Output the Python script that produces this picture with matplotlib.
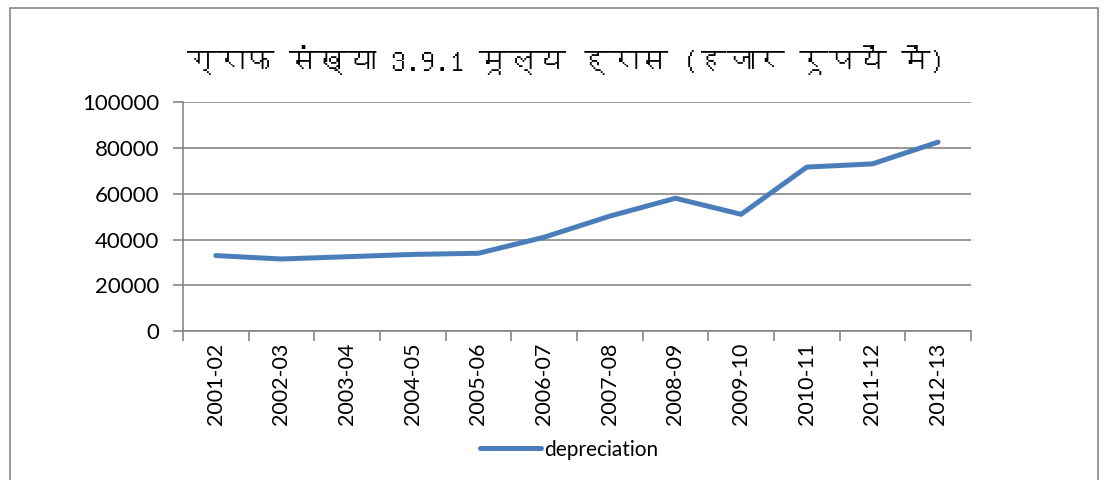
import matplotlib
matplotlib.use("Agg")
import matplotlib.pyplot as plt
from matplotlib import font_manager
from matplotlib.ft2font import FT2Font
from matplotlib.patches import Rectangle
import numpy as np

years = ["2001-02", "2002-03", "2003-04", "2004-05", "2005-06", "2006-07",
         "2007-08", "2008-09", "2009-10", "2010-11", "2011-12", "2012-13"]
depreciation = [33000, 31500, 32500, 33500, 34000, 41000,
                50200, 58000, 51000, 71600, 73000, 82500]
yticks = [0, 20000, 40000, 60000, 80000, 100000]
title = "ग्राफ संख्या 3.9.1 मूल्य ह्रास (हजार रूपयें में)"

# look for any installed font with devanagari glyphs
deva = None
for f in font_manager.fontManager.ttflist:
    try:
        if FT2Font(f.fname).get_char_index(ord("ग")):
            deva = f.name
            break
    except Exception:
        pass
title_fam = [deva, "DejaVu Sans"] if deva else ["DejaVu Sans"]

plt.rcParams["font.family"] = ["Lato", "DejaVu Sans"]

fig = plt.figure(figsize=(11.09, 4.80), dpi=100)
ax = fig.add_axes([0.165, 0.310, 0.7105, 0.4775])

x = np.arange(len(years))
line, = ax.plot(x, depreciation, color="#4A7EBB", lw=3.6, solid_capstyle="round",
                label="depreciation")

ax.set_xlim(-0.5, len(years) - 0.5)
ax.set_ylim(0, 100000)
ax.set_yticks(yticks)
ax.set_yticklabels([str(v) for v in yticks], fontsize=16)
ax.set_xticks(x)
ax.set_xticklabels(years, rotation=90, fontsize=15.5)
ax.set_xticks(np.arange(-0.5, len(years), 1.0), minor=True)
ax.tick_params(axis="x", which="major", length=0, pad=8)
ax.tick_params(axis="x", which="minor", length=7, color="#868686", width=1.2)
ax.tick_params(axis="y", length=7, color="#868686", width=1.2, pad=10)

ax.grid(axis="y", color="#868686", lw=1.2)
ax.set_axisbelow(True)
for s in ["top", "right"]:
    ax.spines[s].set_visible(False)
for s in ["left", "bottom"]:
    ax.spines[s].set_color("#868686")
    ax.spines[s].set_linewidth(1.2)

fig.text(0.51, 0.875, title, ha="center", va="center", fontsize=21, family=title_fam)

fig.legend(handles=[line], loc="center", bbox_to_anchor=(0.513, 0.063), frameon=False,
           fontsize=15, handlelength=2.9, handletextpad=0.15)

fig.add_artist(Rectangle((0.009, -0.05), 0.981, 1.033, transform=fig.transFigure,
                         fill=False, edgecolor="#868686", lw=1.2))

fig.savefig("out.png", dpi=100)
